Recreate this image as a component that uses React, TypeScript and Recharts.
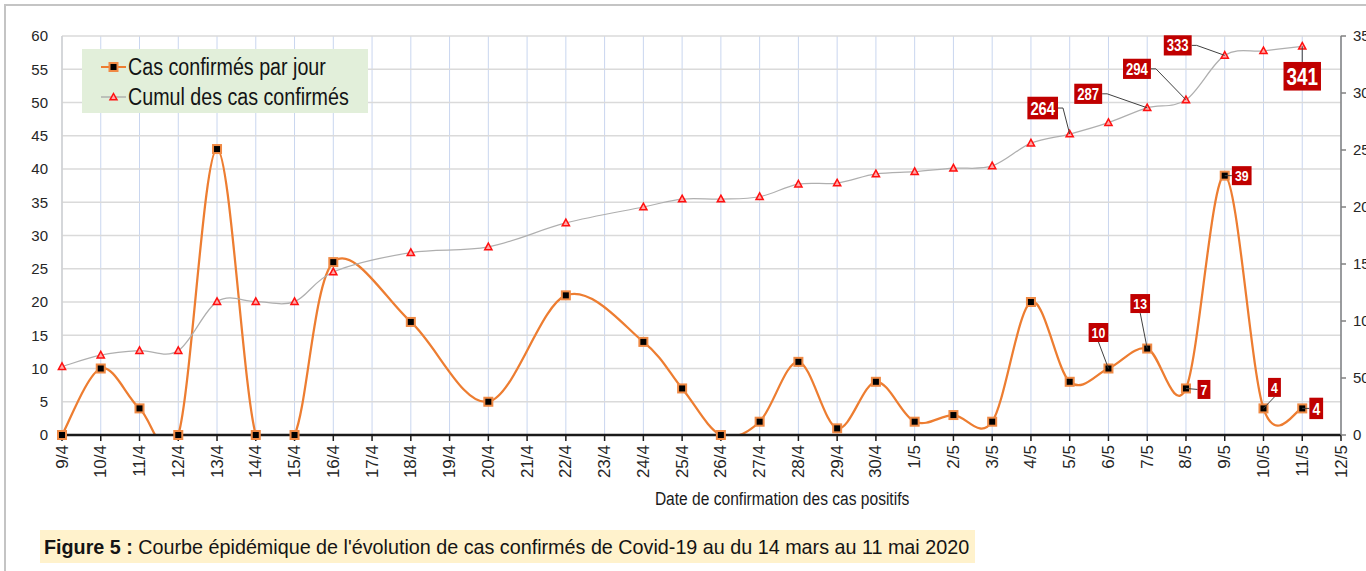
import React from "react";
import {
  ComposedChart,
  Line,
  XAxis,
  YAxis,
  CartesianGrid,
  Legend,
  LabelList,
  Label,
} from "recharts";

// dates that have a reported value (17/4, 19/4, 21/4, 23/4 have none)
const dates = [
  "9/4", "10/4", "11/4", "12/4", "13/4", "14/4", "15/4", "16/4", "18/4", "20/4",
  "22/4", "24/4", "25/4", "26/4", "27/4", "28/4", "29/4", "30/4", "1/5", "2/5",
  "3/5", "4/5", "5/5", "6/5", "7/5", "8/5", "9/5", "10/5", "11/5",
];
const dailyCases = [
  0, 10, 4, 0, 43, 0, 0, 26, 17, 5, 21, 14, 7, 0, 2, 11, 1, 8, 2, 3, 2, 20, 8, 10, 13, 7, 39, 4, 4,
];
const cumulativeCases = [
  60, 70, 74, 74, 117, 117, 117, 143, 160, 165, 186, 200, 207, 207, 209, 220, 221, 229, 231, 234,
  236, 256, 264, 274, 287, 294, 333, 337, 341,
];
const xTickLabels = [
  "9/4", "10/4", "11/4", "12/4", "13/4", "14/4", "15/4", "16/4", "17/4", "18/4", "19/4", "20/4",
  "21/4", "22/4", "23/4", "24/4", "25/4", "26/4", "27/4", "28/4", "29/4", "30/4", "1/5", "2/5",
  "3/5", "4/5", "5/5", "6/5", "7/5", "8/5", "9/5", "10/5", "11/5", "12/5",
];
const leftTicks = [0, 5, 10, 15, 20, 25, 30, 35, 40, 45, 50, 55, 60];
const rightTicks = [0, 50, 100, 150, 200, 250, 300, 350];

type Note = { date: string; dx: number; dy: number; size: number; leader: "left" | "right" | "top" | "bottom" };

// callout placement (offset of the red box from its point)
const dailyNotes: Note[] = [
  { date: "6/5", dx: -10, dy: -36, size: 15, leader: "bottom" },
  { date: "7/5", dx: -7, dy: -45, size: 15, leader: "bottom" },
  { date: "8/5", dx: 18, dy: 1, size: 15, leader: "left" },
  { date: "9/5", dx: 17, dy: 0, size: 15, leader: "left" },
  { date: "10/5", dx: 11, dy: -21, size: 15, leader: "bottom" },
  { date: "11/5", dx: 14, dy: 0, size: 17, leader: "left" },
];
const cumulNotes: Note[] = [
  { date: "5/5", dx: -27, dy: -26, size: 18, leader: "right" },
  { date: "7/5", dx: -59, dy: -14, size: 16, leader: "right" },
  { date: "8/5", dx: -49, dy: -31, size: 16, leader: "right" },
  { date: "9/5", dx: -47, dy: -10, size: 16, leader: "right" },
  { date: "11/5", dx: 0, dy: 30, size: 23, leader: "top" },
];

const FONT = '"Liberation Sans", Arial, sans-serif';
const ORANGE = "#ED7D31";
const NARROW = 0.82; // the source uses a condensed face; squeeze Liberation Sans

const dayIndex = (label: string) => {
  const [d, m] = label.split("/").map(Number);
  return (Date.UTC(2020, m - 1, d) - Date.UTC(2020, 3, 9)) / 86400000;
};

const chartData = dates.map((date, i) => ({
  day: dayIndex(date),
  date,
  daily: dailyCases[i],
  cumul: cumulativeCases[i],
}));

// Excel-like smoothed line (cubic bezier, catmull-rom tangents)
const excelSmooth = (context: any) => {
  let pts: number[][] = [];
  return {
    areaStart() {},
    areaEnd() {},
    lineStart() {
      pts = [];
    },
    lineEnd() {
      if (!pts.length) return;
      context.moveTo(pts[0][0], pts[0][1]);
      for (let i = 0; i < pts.length - 1; i++) {
        const p0 = pts[i - 1] || pts[i];
        const p1 = pts[i];
        const p2 = pts[i + 1];
        const p3 = pts[i + 2] || p2;
        context.bezierCurveTo(
          p1[0] + (p2[0] - p0[0]) / 6,
          p1[1] + (p2[1] - p0[1]) / 6,
          p2[0] - (p3[0] - p1[0]) / 6,
          p2[1] - (p3[1] - p1[1]) / 6,
          p2[0],
          p2[1]
        );
      }
    },
    point(x: number, y: number) {
      pts.push([+x, +y]);
    },
  };
};

const SquareDot = (props: any) => {
  const { cx, cy } = props;
  if (cx == null || cy == null) return null;
  return <rect x={cx - 4} y={cy - 4} width={8} height={8} fill="#000" stroke="#F08A45" strokeWidth={2} />;
};

const TriangleDot = (props: any) => {
  const { cx, cy } = props;
  if (cx == null || cy == null) return null;
  return (
    <path
      d={`M${cx},${cy - 3.8}L${cx + 3.6},${cy + 2.8}L${cx - 3.6},${cy + 2.8}Z`}
      fill="#FFA8A8"
      stroke="#FF1010"
      strokeWidth={1.5}
    />
  );
};

const DateTick = (props: any) => {
  const { x, y, payload } = props;
  return (
    <text
      x={x}
      y={y}
      transform={`rotate(-90 ${x} ${y})`}
      textAnchor="end"
      dominantBaseline="central"
      fontSize={17}
      fontFamily={FONT}
      fill="#262626"
    >
      {xTickLabels[payload.value]}
    </text>
  );
};

const AxisTitle = (props: any) => {
  const vb = props.viewBox;
  if (!vb) return null;
  const x = vb.x + vb.width * 0.563;
  const y = vb.y + vb.height - 5;
  return (
    <text
      transform={`translate(${x} ${y}) scale(${NARROW} 1)`}
      textAnchor="middle"
      fontFamily={FONT}
      fontSize={19}
      fill="#1a1a1a"
    >
      Date de confirmation des cas positifs
    </text>
  );
};

const makeNoteLabel = (notes: Note[]) => (props: any) => {
  const { index, value } = props;
  const vb = props.viewBox || {};
  const px = vb.x ?? props.x;
  const py = vb.y ?? props.y;
  const note = notes.find((n) => n.date === dates[index]);
  if (!note || px == null || py == null) return null;
  const text = String(value);
  const w = text.length * 0.556 * NARROW * note.size + 6;
  const h = note.size * 1.2 + 1;
  const cx = px + note.dx;
  const cy = py + note.dy;
  let leader = "";
  if (note.leader === "right") leader = `M${cx + w / 2},${cy}H${cx + w / 2 + 5}L${px},${py}`;
  if (note.leader === "left") leader = `M${cx - w / 2},${cy}L${px},${py}`;
  if (note.leader === "top") leader = `M${cx},${cy - h / 2}L${px},${py}`;
  if (note.leader === "bottom") leader = `M${cx},${cy + h / 2}L${px},${py}`;
  return (
    <g>
      <path d={leader} stroke="#404040" strokeWidth={1} fill="none" />
      <rect x={cx - w / 2} y={cy - h / 2} width={w} height={h} fill="#C00000" />
      <text
        transform={`translate(${cx} ${cy + note.size * 0.36}) scale(${NARROW} 1)`}
        textAnchor="middle"
        fontFamily={FONT}
        fontWeight="bold"
        fontSize={note.size}
        fill="#fff"
      >
        {text}
      </text>
    </g>
  );
};

const squeeze = (k: number): React.CSSProperties => ({
  display: "inline-block",
  transform: `scaleX(${k})`,
  transformOrigin: "0 50%",
  whiteSpace: "nowrap",
});

const LegendBox = () => (
  <div
    style={{
      background: "#E2EFDA",
      width: 286,
      height: 64,
      boxSizing: "border-box",
      padding: "3px 0 0 19px",
      fontFamily: FONT,
      fontSize: 23,
      color: "#141414",
      overflow: "hidden",
    }}
  >
    <div style={{ display: "flex", alignItems: "center", height: 30 }}>
      <svg width={25} height={14} style={{ flexShrink: 0 }}>
        <line x1={0} y1={7} x2={25} y2={7} stroke={ORANGE} strokeWidth={2} />
        <rect x={8.5} y={3} width={8} height={8} fill="#000" stroke="#F08A45" strokeWidth={2} />
      </svg>
      <span style={{ marginLeft: 2, ...squeeze(0.855) }}>Cas confirmés par jour</span>
    </div>
    <div style={{ display: "flex", alignItems: "center", height: 30 }}>
      <svg width={25} height={14} style={{ flexShrink: 0 }}>
        <line x1={0} y1={7} x2={25} y2={7} stroke="#A5A5A5" strokeWidth={1.25} />
        <path d="M12.5,3.5L16,9.8L9,9.8Z" fill="#FFA8A8" stroke="#FF1010" strokeWidth={1.5} />
      </svg>
      <span style={{ marginLeft: 2, ...squeeze(0.855) }}>Cumul des cas confirmés</span>
    </div>
  </div>
);

export default function App() {
  return (
    <div
      style={{
        position: "absolute",
        left: 0,
        top: 0,
        width: 1366,
        height: 571,
        overflow: "hidden",
        background: "#fff",
      }}
    >
      <div
        style={{
          position: "absolute",
          left: 4,
          top: 4,
          width: 1362,
          height: 567,
          borderTop: "2px solid #c4c4c4",
          borderLeft: "2px solid #c4c4c4",
          boxSizing: "border-box",
        }}
      />
      <div style={{ position: "absolute", left: 0, top: 0 }}>
        <ComposedChart
          width={1366}
          height={571}
          data={chartData}
          margin={{ top: 36, right: 5, left: 22, bottom: 61 }}
        >
          <CartesianGrid yAxisId="left" horizontal={false} stroke="#C9D6EF" strokeWidth={1} />
          <CartesianGrid yAxisId="left" vertical={false} stroke="#DADADA" strokeWidth={1.5} />
          <XAxis
            dataKey="day"
            type="number"
            domain={[0, 33]}
            ticks={xTickLabels.map((_, i) => i)}
            interval={0}
            height={75}
            tick={<DateTick />}
            tickSize={6}
            tickMargin={4}
            axisLine={{ stroke: "#1a1a1a", strokeWidth: 2.5 }}
            tickLine={{ stroke: "#1a1a1a", strokeWidth: 1.5 }}
          >
            <Label content={<AxisTitle />} />
          </XAxis>
          <YAxis
            yAxisId="left"
            domain={[0, 60]}
            ticks={leftTicks}
            interval={0}
            width={40}
            tickLine={false}
            tickSize={6}
            tickMargin={8}
            axisLine={{ stroke: "#D0D0D0", strokeWidth: 1.5 }}
            tick={{ fontFamily: FONT, fontSize: 15, fill: "#262626" }}
          />
          <YAxis yAxisId="leftClip" hide domain={[0, 60]} allowDataOverflow />
          <YAxis
            yAxisId="right"
            orientation="right"
            domain={[0, 350]}
            ticks={rightTicks}
            interval={0}
            width={20}
            tickSize={5}
            tickMargin={7}
            axisLine={{ stroke: "#808080", strokeWidth: 1.5 }}
            tickLine={{ stroke: "#808080", strokeWidth: 1.5 }}
            tick={{ fontFamily: FONT, fontSize: 15, fill: "#262626", textAnchor: "start" }}
          />
          <Legend
            layout="vertical"
            align="center"
            verticalAlign="middle"
            content={<LegendBox />}
            wrapperStyle={{ left: 82, top: 49, width: 286, height: 64 }}
          />
          <Line
            yAxisId="leftClip"
            dataKey="daily"
            type={excelSmooth as any}
            stroke={ORANGE}
            strokeWidth={2.25}
            dot={false}
            activeDot={false}
            isAnimationActive={false}
          />
          <Line
            yAxisId="right"
            dataKey="cumul"
            type={excelSmooth as any}
            stroke="#AFAFAF"
            strokeWidth={1.25}
            dot={<TriangleDot />}
            activeDot={false}
            isAnimationActive={false}
          >
            <LabelList dataKey="cumul" content={makeNoteLabel(cumulNotes)} />
          </Line>
          <Line
            yAxisId="left"
            dataKey="daily"
            stroke="none"
            dot={<SquareDot />}
            activeDot={false}
            legendType="none"
            isAnimationActive={false}
          >
            <LabelList dataKey="daily" content={makeNoteLabel(dailyNotes)} />
          </Line>
        </ComposedChart>
      </div>
      <div
        style={{
          position: "absolute",
          left: 40,
          top: 530,
          width: 935,
          height: 33,
          background: "#FFF2CC",
          fontFamily: FONT,
          fontSize: 21,
          lineHeight: "33px",
          paddingLeft: 4,
          boxSizing: "border-box",
          color: "#141414",
          overflow: "hidden",
        }}
      >
        <span style={squeeze(0.94)}>
          <b>Figure 5 :</b> Courbe épidémique de l'évolution de cas confirmés de Covid-19 au du 14 mars au 11 mai 2020
        </span>
      </div>
    </div>
  );
}
